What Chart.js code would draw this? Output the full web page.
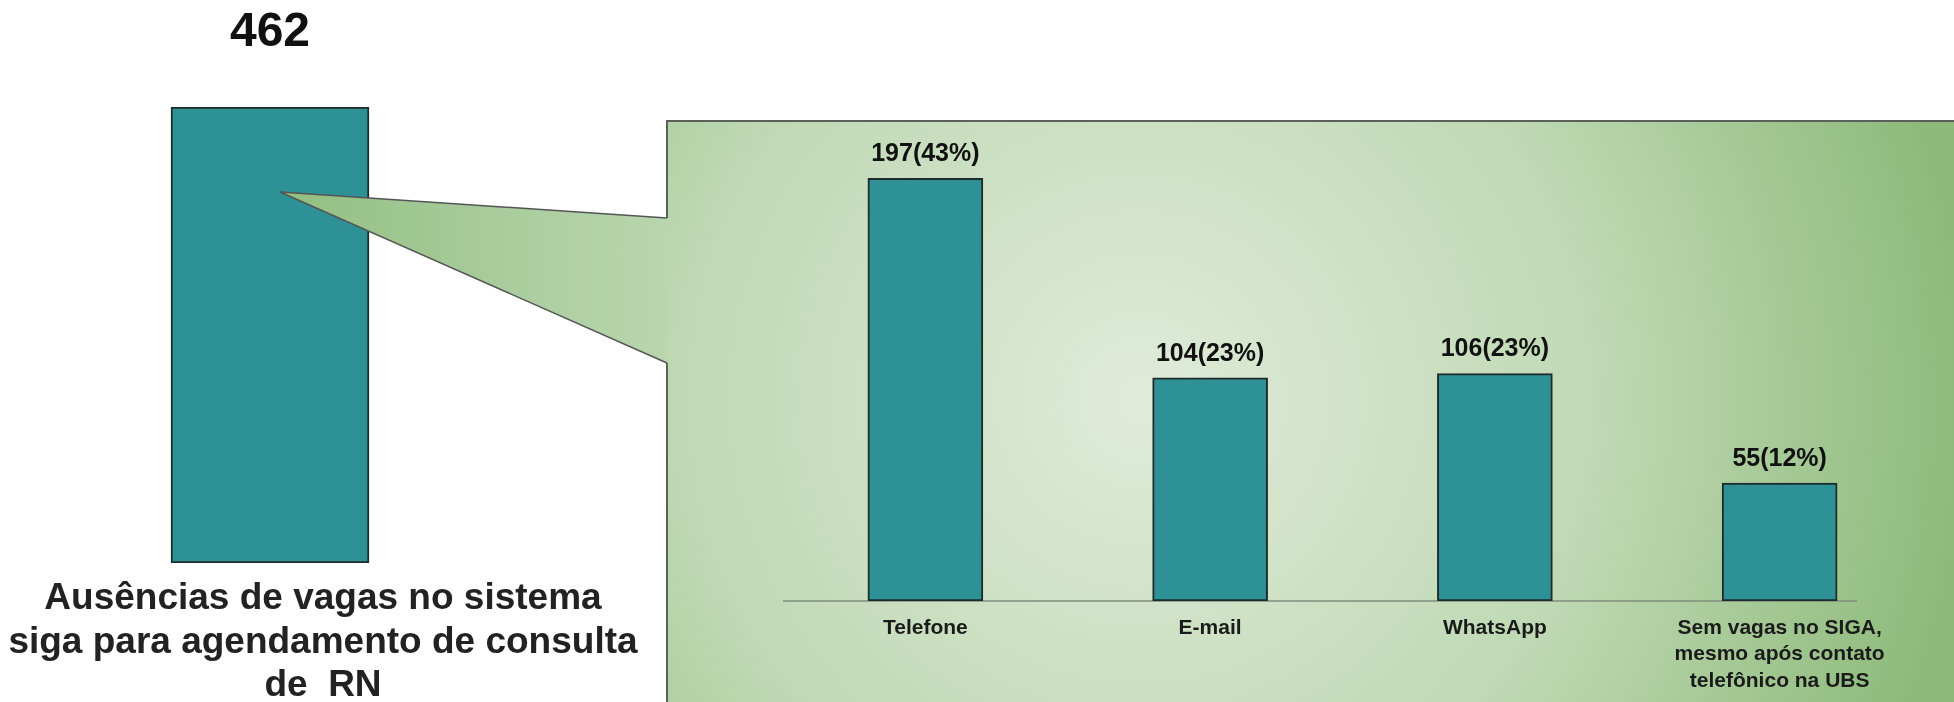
<!DOCTYPE html>
<html>
<head>
<meta charset="utf-8">
<script src="https://cdn.jsdelivr.net/npm/chart.js@4"></script>
<style>
  body { margin: 0; width: 1954px; height: 702px; overflow: hidden; background: #fff; position: relative; font-family: "Liberation Sans", Arial, sans-serif; }
  .abs { position: absolute; }
  #legenda { left: 0; top: 575px; width: 646px; text-align: center; font-weight: bold; font-size: 37px; line-height: 43.5px; color: #222; white-space: pre; }
</style>
</head>
<body>
<div class="abs" style="left:0;top:0"><canvas id="totalChart" width="660" height="702"></canvas></div>

<svg class="abs" style="left:0;top:0" width="1954" height="702">
  <defs>
    <radialGradient id="painelGrad" gradientUnits="userSpaceOnUse" cx="1140" cy="400" r="830">
      <stop offset="0" stop-color="#e0ebd9"/>
      <stop offset="0.55" stop-color="#bfd9b4"/>
      <stop offset="1" stop-color="#8dba7a"/>
    </radialGradient>
    <linearGradient id="caloutGrad" gradientUnits="userSpaceOnUse" x1="280" y1="0" x2="667" y2="0">
      <stop offset="0" stop-color="#92bf82"/>
      <stop offset="1" stop-color="#b9d6af"/>
    </linearGradient>
  </defs>
  <rect x="667" y="121" width="1287" height="581" fill="url(#painelGrad)"/>
  <polygon points="280,192 668,218 668,363" fill="url(#caloutGrad)"/>
  <polyline points="667,218 280,192 667,363" fill="none" stroke="#555" stroke-width="1.5"/>
  <path d="M667 702 V363 M667 218 V121 H1954" fill="none" stroke="#5b615a" stroke-width="2"/>
</svg>

<div class="abs" style="left:667px;top:121px"><canvas id="canalChart" width="1287" height="581"></canvas></div>

<div id="legenda" class="abs"></div>

<script>
// dados
const totalLabel = "Ausências de vagas no sistema\nsiga para agendamento de consulta\nde  RN";
const totalValor = [462];

const canais = [
    ["Telefone"],
    ["E-mail"],
    ["WhatsApp"],
    ["Sem vagas no SIGA,", "mesmo após contato", "telefônico na UBS"]
];
const quantidades = [197, 104, 106, 55];
const percentuais = [43, 23, 23, 12];

const corBarra = "#2e9196";
const corBorda = "#1e2b2c";
const fonte = '"Liberation Sans", Arial, sans-serif';

document.getElementById("legenda").textContent = totalLabel;

// rotulos em cima das barras e embaixo do eixo
const rotulosPlugin = {
    id: "rotulos",
    beforeDatasetsDraw(chart, args, opts) {
        if (!opts.linhaBase) return;
        const ctx = chart.ctx;
        const area = chart.chartArea;
        const y0 = chart.scales.y.getPixelForValue(0);
        ctx.save();
        ctx.strokeStyle = "#7f8e7b";
        ctx.lineWidth = 1.5;
        ctx.beginPath();
        ctx.moveTo(area.left, y0);
        ctx.lineTo(area.right - 65, y0);
        ctx.stroke();
        ctx.restore();
    },
    afterDatasetsDraw(chart, args, opts) {
        const ctx = chart.ctx;
        const meta = chart.getDatasetMeta(0);
        const y0 = chart.scales.y.getPixelForValue(0);
        ctx.save();
        ctx.textAlign = "center";
        ctx.textBaseline = "middle";
        meta.data.forEach(function(bar, i) {
            ctx.fillStyle = "#111";
            ctx.font = "bold " + opts.tamValor + "px " + fonte;
            ctx.fillText(opts.valores[i], bar.x, bar.y - opts.acima);
            if (opts.categorias) {
                ctx.fillStyle = "#1a1a1a";
                ctx.font = "bold " + opts.tamCat + "px " + fonte;
                opts.categorias[i].forEach(function(linha, j) {
                    ctx.fillText(linha, bar.x, y0 + 27 + j * 26.5);
                });
            }
        });
        ctx.restore();
    }
};

new Chart(document.getElementById("totalChart"), {
    type: "bar",
    data: {
        labels: ["total"],
        datasets: [{
            data: totalValor,
            backgroundColor: corBarra,
            borderColor: corBorda,
            borderWidth: 2,
            borderSkipped: false,
            barThickness: 198
        }]
    },
    options: {
        responsive: false,
        animation: false,
        layout: { padding: { top: 107, bottom: 139, left: 0, right: 120 } },
        scales: {
            x: { display: false },
            y: { display: false, min: 0, max: 462 }
        },
        plugins: {
            legend: { display: false },
            tooltip: { enabled: false },
            rotulos: { valores: totalValor.map(String), tamValor: 48, acima: 74 }
        }
    },
    plugins: [rotulosPlugin]
});

new Chart(document.getElementById("canalChart"), {
    type: "bar",
    data: {
        labels: canais.map(c => c.join(" ")),
        datasets: [{
            data: quantidades,
            backgroundColor: corBarra,
            borderColor: corBorda,
            borderWidth: 2,
            borderSkipped: false,
            barThickness: 115
        }]
    },
    options: {
        responsive: false,
        animation: false,
        layout: { padding: { top: 8, bottom: 101, left: 116, right: 32 } },
        scales: {
            x: { display: false },
            y: { display: false, min: 0, max: 220 }
        },
        plugins: {
            legend: { display: false },
            tooltip: { enabled: false },
            rotulos: {
                valores: quantidades.map((q, i) => q + "(" + percentuais[i] + "%)"),
                tamValor: 25,
                acima: 24,
                categorias: canais,
                tamCat: 21,
                linhaBase: true
            }
        }
    },
    plugins: [rotulosPlugin]
});
</script>
</body>
</html>
